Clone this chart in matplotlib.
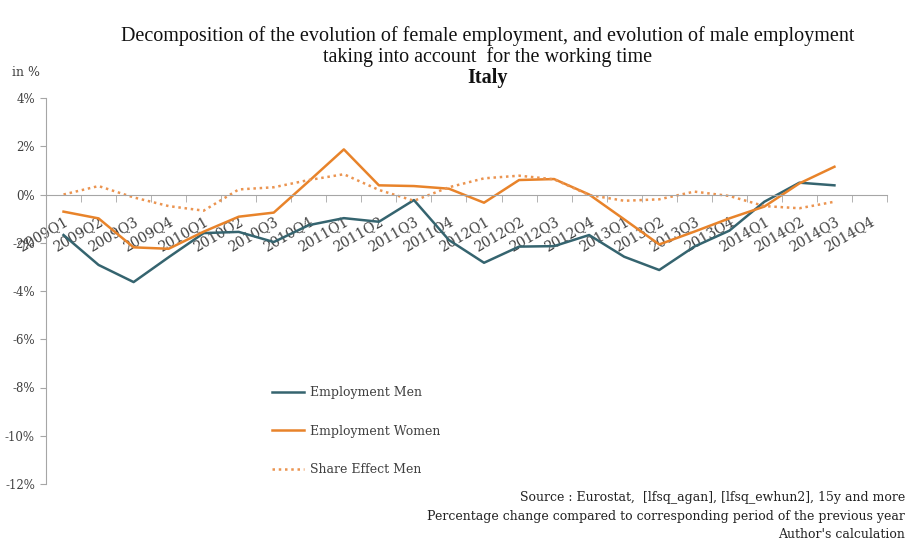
import numpy as np
import matplotlib.pyplot as plt

# Quarters on the x axis
quarters = [f"{y}Q{q}" for y in range(2009, 2015) for q in range(1, 5)]

# Values in %, 2009Q1 .. 2014Q3
men = [-1.68, -2.92, -3.63, -2.60, -1.60, -1.55, -1.97, -1.27,
       -0.98, -1.13, -0.23, -1.89, -2.83, -2.16, -2.14, -1.68,
       -2.58, -3.13, -2.16, -1.50, -0.30, 0.49, 0.38]
women = [-0.71, -0.99, -2.19, -2.25, -1.54, -0.92, -0.75, 0.55,
         1.87, 0.38, 0.35, 0.24, -0.34, 0.60, 0.64, 0.00,
         -1.03, -2.07, -1.54, -0.99, -0.50, 0.46, 1.15]
share_men = [0.00, 0.35, -0.12, -0.48, -0.67, 0.21, 0.30, 0.60,
             0.84, 0.19, -0.26, 0.30, 0.67, 0.78, 0.63, -0.02,
             -0.26, -0.20, 0.12, -0.06, -0.48, -0.57, -0.30]

yticks = [4, 2, 0, -2, -4, -6, -8, -10, -12]

serif = ['DejaVu Serif']
txt = '#404040'
axcol = '#a6a6a6'

fig = plt.figure(figsize=(9.12, 5.4), dpi=100)
ax = fig.add_axes([46 / 912, 1 - 484 / 540, (887 - 46) / 912, (484 - 98) / 540])

x = np.arange(len(men))
ax.plot(x, men, color='#35646f', lw=1.8, label='Employment Men')
ax.plot(x, women, color='#e8832a', lw=1.8, label='Employment Women')
ax.plot(x, share_men, color='#eb9450', lw=1.8, ls=(0, (1, 1.5)),
        label='Share Effect Men')

ax.set_xlim(-0.5, len(quarters) - 0.5)
ax.set_ylim(-12, 4)

for s in ['top', 'right']:
    ax.spines[s].set_visible(False)
ax.spines['left'].set_color(axcol)
ax.spines['bottom'].set_color(axcol)
ax.spines['bottom'].set_position(('data', 0))

ax.set_yticks(yticks)
ax.set_yticklabels([f"{v}%" for v in yticks], family=serif, fontsize=8.5, color=txt)
ax.tick_params(axis='y', length=4, color=axcol, direction='out', pad=4)

ax.set_xticks(np.arange(len(quarters)))
ax.set_xticklabels(quarters, rotation=30, ha='right', va='top',
                   rotation_mode='anchor', family=serif, fontsize=10, color=txt)
ax.set_xticks(np.arange(len(quarters) + 1) - 0.5, minor=True)
ax.tick_params(axis='x', which='major', length=0, pad=14)
ax.tick_params(axis='x', which='minor', length=5, color=axcol, direction='out')

fig.text(12 / 912, 1 - 72 / 540, 'in %', family=serif, fontsize=9, color=txt,
         va='center')

fig.text(488 / 912, 1 - 36 / 540,
         'Decomposition of the evolution of female employment, and evolution of male employment',
         family=['Liberation Serif'], fontsize=14.5, ha='center', va='center', color='#111111')
fig.text(488 / 912, 1 - 57 / 540, 'taking into account  for the working time',
         family=['Liberation Serif'], fontsize=14.5, ha='center', va='center', color='#111111')
fig.text(488 / 912, 1 - 78 / 540, 'Italy', family=['Liberation Serif'], fontsize=14.5,
         fontweight='bold', ha='center', va='center', color='#111111')

leg = ax.legend(loc='upper left', bbox_to_anchor=(272 / 912, 1 - 386 / 540),
                bbox_transform=fig.transFigure, frameon=False, borderpad=0,
                borderaxespad=0, labelspacing=2.05, handlelength=2.6,
                handletextpad=0.45, prop={'family': serif, 'size': 9})
for t in leg.get_texts():
    t.set_color(txt)

foot = ['Source : Eurostat,  [lfsq_agan], [lfsq_ewhun2], 15y and more',
        'Percentage change compared to corresponding period of the previous year',
        "Author's calculation"]
for i, line in enumerate(foot):
    fig.text(905 / 912, 1 - (498 + 18.5 * i) / 540, line, family=serif, fontsize=9,
             ha='right', va='center', color='#222222')

fig.savefig('out.png', dpi=100)
